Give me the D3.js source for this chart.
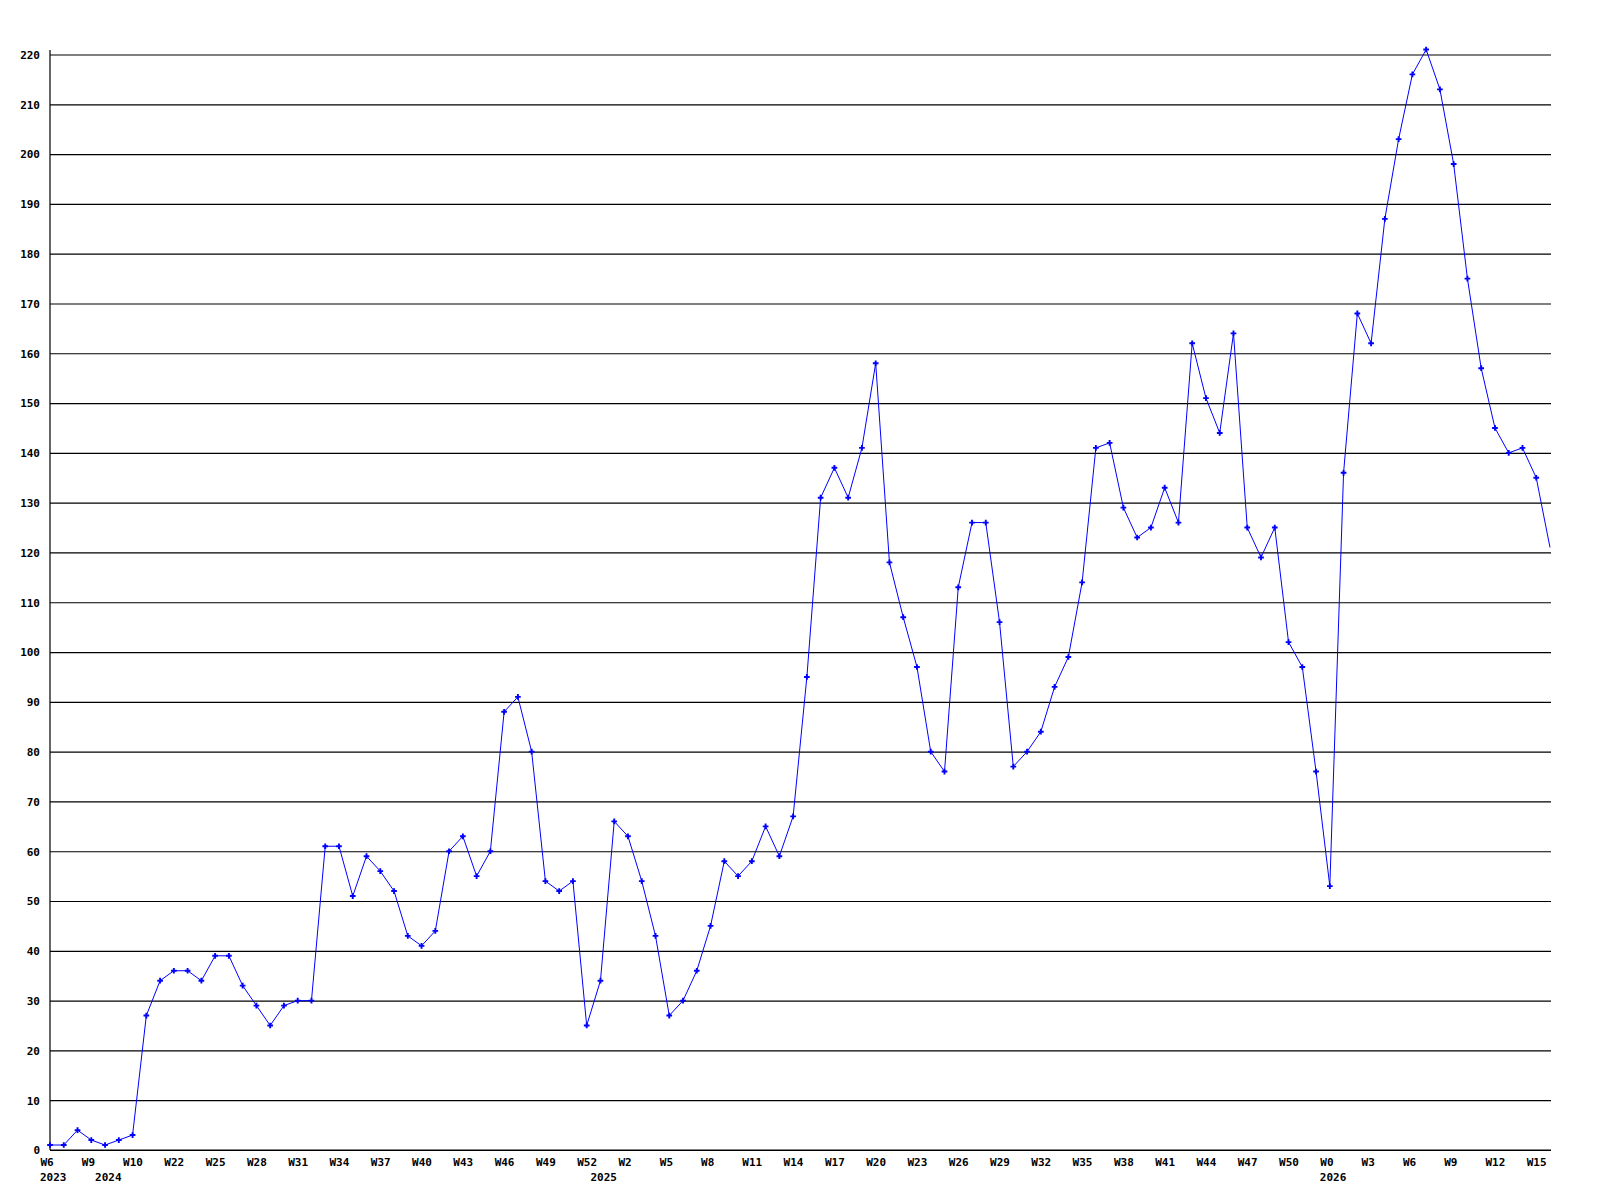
<!DOCTYPE html>
<html>
<head>
<meta charset="utf-8">
<script src="https://cdn.jsdelivr.net/npm/d3@7"></script>
<style>
  body { margin: 0; background: #fff; }
  svg text { font-family: "DejaVu Sans Mono", "Liberation Mono", monospace; font-weight: bold; font-size: 11px; fill: #000; }
</style>
</head>
<body>
<div id="chart"></div>
<script>
// weekly counts
const values = [
  1, 1, 4, 2, 1, 2, 3, 27, 34, 36, 36, 34, 39, 39, 33, 29, 25, 29, 30, 30,
  61, 61, 51, 59, 56, 52, 43, 41, 44, 60, 63, 55, 60, 88, 91, 80, 54, 52, 54, 25,
  34, 66, 63, 54, 43, 27, 30, 36, 45, 58, 55, 58, 65, 59, 67, 95, 131, 137, 131, 141,
  158, 118, 107, 97, 80, 76, 113, 126, 126, 106, 77, 80, 84, 93, 99, 114, 141, 142, 129, 123,
  125, 133, 126, 162, 151, 144, 164, 125, 119, 125, 102, 97, 76, 53, 136, 168, 162, 187, 203, 216,
  221, 213, 198, 175, 157, 145, 140, 141, 135, 121
];

// a week label on every third point
const weekLabels = [
  "W6", "W9", "W10", "W22", "W25", "W28", "W31", "W34", "W37", "W40", "W43", "W46", "W49",
  "W52", "W2", "W5", "W8", "W11", "W14", "W17", "W20", "W23", "W26", "W29", "W32", "W35",
  "W38", "W41", "W44", "W47", "W50", "W0", "W3", "W6", "W9", "W12", "W15"
];

// year label: point index where it sits
const yearLabels = [
  { idx: 0, label: "2023" },
  { idx: 4, label: "2024" },
  { idx: 40, label: "2025" },
  { idx: 93, label: "2026" }
];

const yTicks = d3.range(0, 221, 10);

const width = 1600, height = 1200;
const plotLeft = 50, plotRight = 1551, plotTop = 54.5, plotBottom = 1150;

const svg = d3.select("#chart").append("svg")
  .attr("width", width)
  .attr("height", height);

const xScale = d3.scaleLinear()
  .domain([0, values.length - 1])
  .range([plotLeft, 1550]);

const yScale = d3.scaleLinear()
  .domain([0, 220])
  .range([plotBottom, plotTop]);

// horizontal grid + y labels
const yAxis = svg.append("g")
  .attr("transform", "translate(" + plotLeft + ",0)")
  .call(d3.axisLeft(yScale).tickValues(yTicks).tickSize(-(plotRight - plotLeft)).tickPadding(10));
yAxis.select(".domain").remove();
yAxis.selectAll(".tick line").attr("stroke", "#000").attr("stroke-width", 1.2);
yAxis.selectAll(".tick text").attr("dy", "0.35em");

// left axis line
svg.append("line")
  .attr("x1", plotLeft).attr("x2", plotLeft)
  .attr("y1", 50).attr("y2", plotBottom)
  .attr("stroke", "#000").attr("stroke-width", 1.2);

// bottom axis with week labels
const tickIdx = weekLabels.map((d, i) => i * 3);
const xAxis = svg.append("g")
  .attr("transform", "translate(0," + plotBottom + ")")
  .call(d3.axisBottom(xScale).tickValues(tickIdx).tickFormat((d, i) => weekLabels[i]).tickSize(0));
xAxis.select(".domain").remove();
xAxis.selectAll(".tick text")
  .attr("text-anchor", "start")
  .attr("x", -10)
  .attr("y", 15.5)
  .attr("dy", null);

svg.append("line")
  .attr("x1", plotLeft).attr("x2", plotRight)
  .attr("y1", plotBottom).attr("y2", plotBottom)
  .attr("stroke", "#000").attr("stroke-width", 1.2);

svg.selectAll(".year")
  .data(yearLabels)
  .enter()
  .append("text")
  .attr("class", "year")
  .attr("x", d => xScale(d.idx) - 10)
  .attr("y", plotBottom + 31)
  .text(d => d.label);

// data line
const line = d3.line()
  .x((d, i) => xScale(i))
  .y(d => yScale(d));

svg.append("path")
  .datum(values)
  .attr("fill", "none")
  .attr("stroke", "#0000ff")
  .attr("stroke-width", 1)
  .attr("d", line);

// markers (the last point sits on the edge and has none)
svg.selectAll(".pt")
  .data(values.slice(0, -1))
  .enter()
  .append("path")
  .attr("class", "pt")
  .attr("d", d3.symbol().type(d3.symbolCross).size(18))
  .attr("transform", (d, i) => "translate(" + xScale(i) + "," + yScale(d) + ")")
  .attr("fill", "#0000ff");
</script>
</body>
</html>
